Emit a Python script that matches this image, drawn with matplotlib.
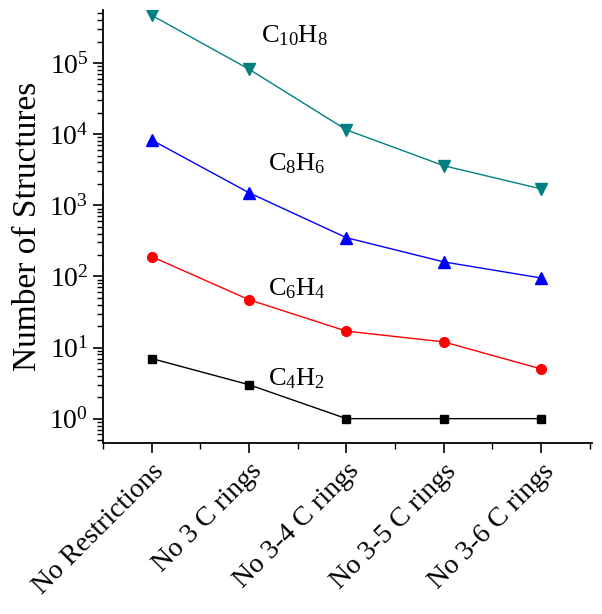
import matplotlib
matplotlib.use("Agg")
import matplotlib.pyplot as plt
from matplotlib.ticker import LogLocator, MultipleLocator, FixedLocator

plt.rcParams['font.family'] = ['Liberation Serif', 'DejaVu Serif']
plt.rcParams['mathtext.fontset'] = 'custom'
plt.rcParams['mathtext.rm'] = 'Liberation Serif'
plt.rcParams['mathtext.it'] = 'Liberation Serif:italic'
plt.rcParams['mathtext.bf'] = 'Liberation Serif:bold'

categories = ["No Restrictions", "No 3 C rings", "No 3-4 C rings", "No 3-5 C rings", "No 3-6 C rings"]
c10h8 = [4.7e5, 8.2e4, 1.15e4, 3.6e3, 1.7e3]
c8h6 = [8.3e3, 1.5e3, 350, 160, 95]
c6h4 = [190, 47, 17, 12, 5]
c4h2 = [7, 3, 1, 1, 1]
series_labels = [r"C$_{10}$H$_8$", r"C$_8$H$_6$", r"C$_6$H$_4$", r"C$_4$H$_2$"]
label_pos = [(2.47, 2.4e5), (2.49, 3.8e3), (2.49, 68), (2.49, 3.7)]

fig = plt.figure(figsize=(6.02, 6.14), dpi=100)
ax = fig.add_axes([0.171, 0.278, 0.812, 0.706])
x = list(range(1, len(categories) + 1))

ax.plot(x, c10h8, color='#008080', marker='v', markersize=8, lw=1)
ax.plot(x, c8h6, color='#0000FF', marker='^', markersize=8, lw=1)
ax.plot(x, c6h4, color='#FF0000', marker='o', markersize=7, lw=1)
ax.plot(x, c4h2, color='black', marker='s', markersize=6, lw=1)

for (lx, ly), lab in zip(label_pos, series_labels):
    ax.text(lx, ly, lab, fontsize=19, ha='center', va='center')

ax.set_yscale('log')
ax.set_ylim(0.45, 5.6e5)
ax.set_xlim(0.5, 5.52)
ax.yaxis.set_major_locator(LogLocator(base=10, numticks=10))
ax.yaxis.set_minor_locator(LogLocator(base=10, subs=range(2, 10), numticks=20))
ax.yaxis.set_minor_formatter(plt.NullFormatter())
ax.xaxis.set_major_locator(FixedLocator(x))
ax.xaxis.set_minor_locator(MultipleLocator(0.5))
ax.set_xticklabels(categories, rotation=45, ha='right', rotation_mode='anchor', fontsize=20)

for s in ['top', 'right']:
    ax.spines[s].set_visible(False)
for s in ['left', 'bottom']:
    ax.spines[s].set_linewidth(1.3)

ax.tick_params(axis='both', which='major', direction='out', length=7, width=1.2, labelsize=20)
ax.tick_params(axis='both', which='minor', direction='out', length=4, width=1.0)
ax.tick_params(axis='x', which='major', pad=4)

ax.set_ylabel("Number of Structures", fontsize=24, labelpad=4)

fig.savefig("out.png", dpi=100)
